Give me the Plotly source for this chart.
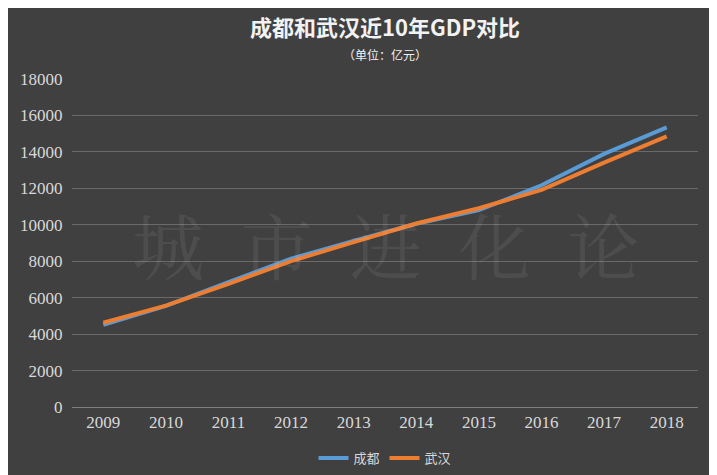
import plotly.graph_objects as go

years = ["2009","2010","2011","2012","2013","2014","2015","2016","2017","2018"]
chengdu = [4503,5551,6855,8139,9109,10057,10801,12170,13890,15343]
wuhan = [4621,5566,6762,8004,9051,10069,10906,11913,13410,14847]

fig = go.Figure()
fig.add_trace(go.Scatter(x=years, y=chengdu, name="成都", mode="lines",
                         line=dict(color="#5b9bd5", width=4)))
fig.add_trace(go.Scatter(x=years, y=wuhan, name="武汉", mode="lines",
                         line=dict(color="#ed7d31", width=4)))
font = "Noto Sans CJK SC"
T, B = 71, 76
fig.update_layout(
    width=717, height=475, paper_bgcolor="#404040", plot_bgcolor="#404040",
    margin=dict(l=64, r=27, t=T, b=B, autoexpand=False),
    font=dict(family=font, color="#d9d9d9", size=15),
    showlegend=True,
    legend=dict(orientation="h", x=0.5, xanchor="center", y=-0.11, yanchor="top",
                font=dict(size=13, color="#d9d9d9")),
    xaxis=dict(type="category", range=[-0.5, 9.5], showgrid=False, showline=True,
               linecolor="#7f7f7f", ticks="",
               tickfont=dict(family="Liberation Serif", size=17)),
    yaxis=dict(range=[0,18000], dtick=2000, tickformat="d", gridcolor="#6a6a6a", zeroline=False,
               tickfont=dict(family="Liberation Serif", size=17), ticksuffix="  "),
    annotations=[
        dict(text="<b>成都和武汉近10年GDP对比</b>", x=0.5, y=18, xref="paper", yref="paper",
             showarrow=False, font=dict(size=22, color="#f2f2f2")),
        dict(text="（单位：亿元）", x=0.5, y=46, xref="paper", yref="paper",
             showarrow=False, font=dict(size=12, color="#f2f2f2")),
        dict(text="城  市  进  化  论", x=0.5, y=0.5, xref="paper", yref="paper",
             showarrow=False, font=dict(family="Noto Serif CJK SC, Noto Sans CJK SC", size=72, color="rgba(255,255,255,0.07)")),
    ],
)
plot_h = 475 - T - B
for a, py in zip(fig.layout.annotations[:2], [18, 46]):
    a.y = (475 - B - py) / plot_h
    a.yanchor = "middle"
fig.write_html("out.html")
